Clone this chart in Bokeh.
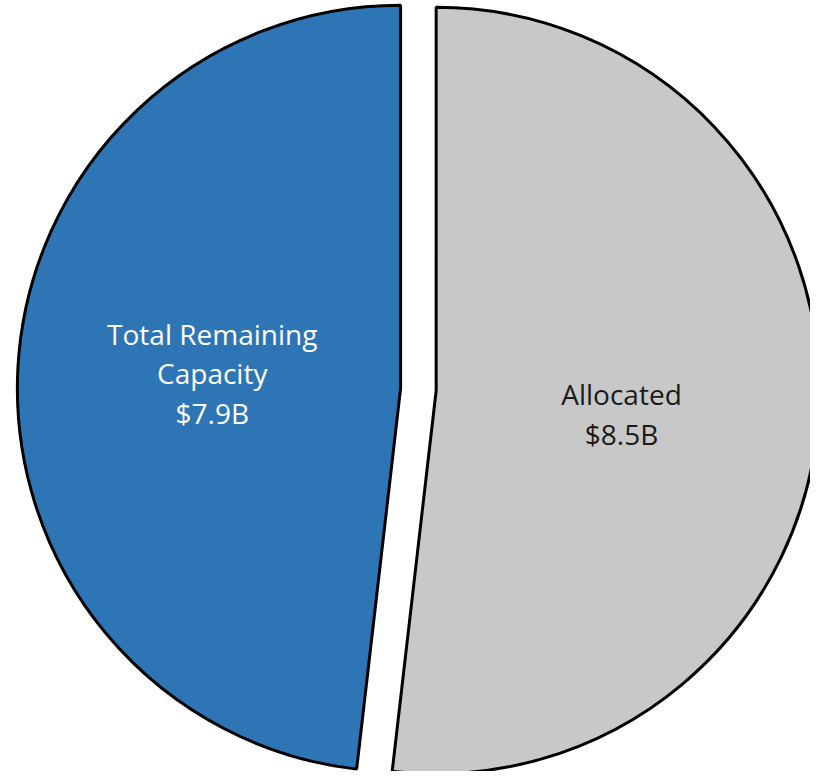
import numpy as np
from bokeh.plotting import figure
from bokeh.models import Range1d, ColumnDataSource
from bokeh.core.properties import value
from bokeh.embed import file_html
from bokeh.resources import INLINE

# Data
labels = ["Total Remaining\nCapacity", "Allocated"]
amounts = [7.9, 8.5]  # $B
colors = ["#2E75B6", "#C8C8C8"]
text_colors = ["#FFFFFF", "#1A1A1A"]

# geometry (pixel-like data space)
W, H = 810, 771
cx, cy = 422.0, 386.0
radius = 387.0
explode = 18.0

vals = np.array(amounts)
frac = vals / vals.sum()
theta_alloc = frac[1] * 2 * np.pi
top = np.pi / 2
starts = [top, top - theta_alloc]
ends = [top + frac[0] * 2 * np.pi, top]
mids = [(s + e) / 2 for s, e in zip(starts, ends)]
xs = [cx + explode * np.cos(m) for m in mids]
ys = [cy + explode * np.sin(m) for m in mids]

src = ColumnDataSource(dict(x=xs, y=ys, start=starts, end=ends, color=colors))

p = figure(width=W, height=H, output_backend="svg", toolbar_location=None,
           x_range=Range1d(0, 818), y_range=Range1d(0, 779),
           min_border=0)
p.axis.visible = False
p.grid.visible = False
p.outline_line_color = None
p.background_fill_color = "white"

p.wedge(x="x", y="y", radius=radius, start_angle="start", end_angle="end",
        direction="anticlock", fill_color="color", line_color="black",
        line_width=3, source=src)

lab_text = [f"{l}\n${v:.1f}B" for l, v in zip(labels, amounts)]
lx = [x + 0.5 * radius * np.cos(m) for x, m in zip(xs, mids)]
ly = [y + 0.5 * radius * np.sin(m) for y, m in zip(ys, mids)]
lx = [lx[0] + 3, lx[1] - 6]
ly = [ly[0] + 4, ly[1] - 13]
lsrc = ColumnDataSource(dict(x=lx, y=ly, t=lab_text, c=text_colors))
p.text(x="x", y="y", text="t", text_color="c", source=lsrc,
       text_align="center", text_baseline="middle",
       text_font=value("Open Sans"), text_font_size="28px", text_line_height=1.05)

open("out.html", "w").write(file_html(p, INLINE))
